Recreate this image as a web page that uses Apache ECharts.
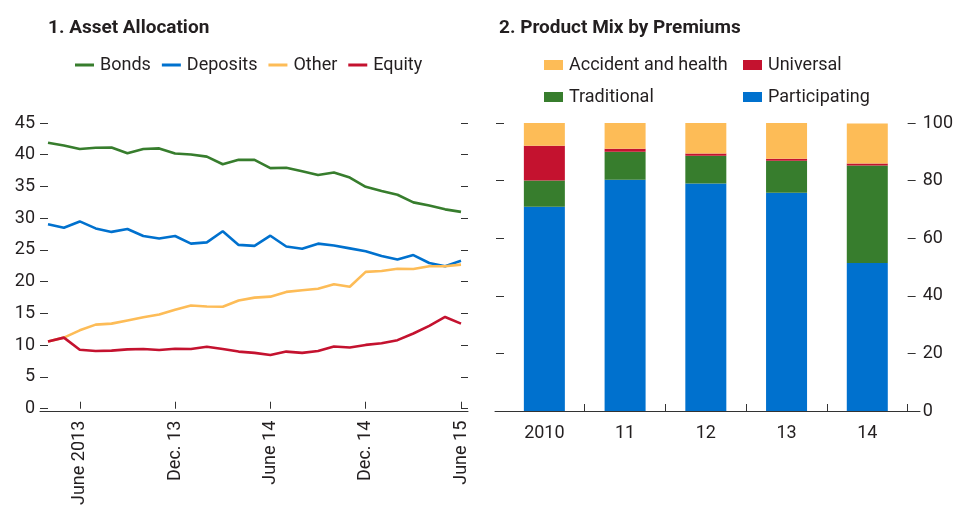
<!DOCTYPE html>
<html>
<head>
<meta charset="utf-8">
<script src="https://cdn.jsdelivr.net/npm/echarts@6/dist/echarts.min.js"></script>
<style>
html,body{margin:0;padding:0;background:#fff;}
#chart{width:956px;height:508px;}
</style>
</head>
<body>
<div id="chart"></div>
<script>
// ---------- Panel 1: Asset Allocation (monthly, Apr 2013 - Jun 2015) ----------
var months = ['2013-04','2013-05','2013-06','2013-07','2013-08','2013-09','2013-10','2013-11','2013-12',
  '2014-01','2014-02','2014-03','2014-04','2014-05','2014-06','2014-07','2014-08','2014-09','2014-10','2014-11','2014-12',
  '2015-01','2015-02','2015-03','2015-04','2015-05','2015-06'];
var monthLabels = {'2013-06':'June 2013','2013-12':'Dec. 13','2014-06':'June 14','2014-12':'Dec. 14','2015-06':'June 15'};
var bonds    = [41.9,41.45,40.9,41.1,41.15,40.25,40.9,41.0,40.2,40.05,39.7,38.5,39.2,39.2,37.9,37.95,37.4,36.8,37.2,36.4,34.95,34.3,33.7,32.5,32.0,31.4,31.0];
var deposits = [29.05,28.5,29.5,28.4,27.85,28.3,27.2,26.8,27.2,26.0,26.2,27.95,25.8,25.65,27.25,25.55,25.2,26.0,25.7,25.25,24.8,24.05,23.5,24.2,22.95,22.45,23.3];
var other    = [10.6,11.2,12.35,13.25,13.4,13.9,14.4,14.85,15.6,16.25,16.1,16.05,17.05,17.5,17.65,18.4,18.65,18.9,19.6,19.2,21.55,21.7,22.05,22.0,22.45,22.45,22.7];
var equity   = [10.6,11.2,9.3,9.1,9.15,9.35,9.4,9.25,9.45,9.4,9.75,9.4,9.0,8.8,8.45,9.0,8.8,9.1,9.8,9.65,10.05,10.3,10.8,11.85,13.05,14.45,13.4];

// ---------- Panel 2: Product Mix by Premiums (percent) ----------
var years = ['2010','11','12','13','14'];
var participating = [70.9,80.3,79.0,75.8,51.4];
var traditional   = [9.1,9.7,9.6,11.1,33.8];
var universal     = [12.1,1.1,0.8,0.7,0.7];
var accident      = [7.9,8.9,10.6,12.4,13.9];

var FONT = "Roboto,'Liberation Sans',sans-serif";
var TXT = '#231f20';
var AX = '#333333';
var FS = 18;
var C = {green:'#377d2d', blue:'#0071ce', orange:'#fdbc57', red:'#c4122f'};

var chart = echarts.init(document.getElementById('chart'), null, {renderer:'canvas'});

function legendAt(left, top, names, iconType, w, h, gap){
  return {
    left:left, top:top, padding:0, itemGap:gap||11, itemWidth:w, itemHeight:h, icon:iconType,
    data:names, selectedMode:false,
    textStyle:{fontFamily:FONT, fontSize:FS, color:TXT, padding:[0,0,0,1]}
  };
}

var option = {
  animation:false,
  backgroundColor:'#fff',
  textStyle:{fontFamily:FONT},
  title:[
    {text:'1. Asset Allocation', left:48, top:19, padding:0, textStyle:{fontFamily:FONT, fontSize:19, fontWeight:'bold', color:TXT}},
    {text:'2. Product Mix by Premiums', left:499, top:19, padding:0, textStyle:{fontFamily:FONT, fontSize:19, fontWeight:'bold', color:TXT}}
  ],
  legend:[
    legendAt(75, 56, ['Bonds','Deposits','Other','Equity'], 'rect', 19, 3, 11),
    legendAt(544, 56, ['Accident and health'], 'rect', 19, 10),
    legendAt(743, 56, ['Universal'], 'rect', 19, 10),
    legendAt(544, 88, ['Traditional'], 'rect', 19, 10),
    legendAt(743, 88, ['Participating'], 'rect', 19, 10)
  ],
  grid:[
    {left:48, width:413, top:123, height:288},
    {left:504, width:407, top:123, height:288},
    // axis-line-only grids (the baseline extends past the plotting area)
    {left:40, width:428, top:123, height:288},
    {left:495, width:425, top:123, height:288}
  ],
  xAxis:[
    {gridIndex:0, type:'category', data:months, boundaryGap:false,
      axisLine:{show:false},
      axisTick:{show:true, inside:true, length:7, lineStyle:{color:AX}, interval:function(i,v){return !!monthLabels[v];}},
      axisLabel:{rotate:90, margin:12, fontFamily:FONT, fontSize:FS, color:TXT,
        interval:function(i,v){return !!monthLabels[v];}, formatter:function(v){return monthLabels[v]||'';}},
      splitLine:{show:false}},
    {gridIndex:1, type:'category', data:years, boundaryGap:true,
      axisLine:{show:false},
      axisTick:{show:true, inside:true, length:7, lineStyle:{color:AX}, interval:function(i){return i>0;}},
      axisLabel:{margin:13, fontFamily:FONT, fontSize:FS, color:TXT, interval:0},
      splitLine:{show:false}},
    {gridIndex:2, type:'value', min:0, max:1, axisLine:{show:true, lineStyle:{color:AX, width:1}}, axisTick:{show:false}, axisLabel:{show:false}, splitLine:{show:false}},
    {gridIndex:3, type:'value', min:0, max:1, axisLine:{show:true, lineStyle:{color:AX, width:1}}, axisTick:{show:false}, axisLabel:{show:false}, splitLine:{show:false}}
  ],
  yAxis:[
    {gridIndex:0, type:'value', position:'left', min:0, max:45, interval:5,
      axisLine:{show:false}, axisTick:{show:true, length:8, lineStyle:{color:AX}},
      axisLabel:{margin:13, fontFamily:FONT, fontSize:FS, color:TXT}, splitLine:{show:false}},
    {gridIndex:0, type:'value', position:'right', min:0, max:45, interval:5,
      axisLine:{show:false}, axisTick:{show:true, length:7, lineStyle:{color:AX}},
      axisLabel:{show:false}, splitLine:{show:false}},
    {gridIndex:1, type:'value', position:'left', min:0, max:100, interval:20,
      axisLine:{show:false}, axisTick:{show:true, length:8, lineStyle:{color:AX}},
      axisLabel:{show:false}, splitLine:{show:false}},
    {gridIndex:1, type:'value', position:'right', min:0, max:100, interval:20,
      axisLine:{show:false}, axisTick:{show:true, length:8, lineStyle:{color:AX}},
      axisLabel:{margin:15, fontFamily:FONT, fontSize:FS, color:TXT}, splitLine:{show:false}},
    {gridIndex:2, type:'value', show:false, min:0, max:1},
    {gridIndex:3, type:'value', show:false, min:0, max:1}
  ],
  series:[
    {name:'Bonds', type:'line', xAxisIndex:0, yAxisIndex:0, data:bonds, showSymbol:false, lineStyle:{width:2.6, color:C.green}, itemStyle:{color:C.green}},
    {name:'Deposits', type:'line', xAxisIndex:0, yAxisIndex:0, data:deposits, showSymbol:false, lineStyle:{width:2.6, color:C.blue}, itemStyle:{color:C.blue}},
    {name:'Other', type:'line', xAxisIndex:0, yAxisIndex:0, data:other, showSymbol:false, lineStyle:{width:2.6, color:C.orange}, itemStyle:{color:C.orange}},
    {name:'Equity', type:'line', xAxisIndex:0, yAxisIndex:0, data:equity, showSymbol:false, lineStyle:{width:2.6, color:C.red}, itemStyle:{color:C.red}},
    {name:'Participating', type:'bar', xAxisIndex:1, yAxisIndex:3, stack:'mix', data:participating, barWidth:41, itemStyle:{color:C.blue}},
    {name:'Traditional', type:'bar', xAxisIndex:1, yAxisIndex:3, stack:'mix', data:traditional, barWidth:41, itemStyle:{color:C.green}},
    {name:'Universal', type:'bar', xAxisIndex:1, yAxisIndex:3, stack:'mix', data:universal, barWidth:41, itemStyle:{color:C.red}},
    {name:'Accident and health', type:'bar', xAxisIndex:1, yAxisIndex:3, stack:'mix', data:accident, barWidth:41, itemStyle:{color:C.orange}}
  ]
};
chart.setOption(option);
</script>
</body>
</html>
